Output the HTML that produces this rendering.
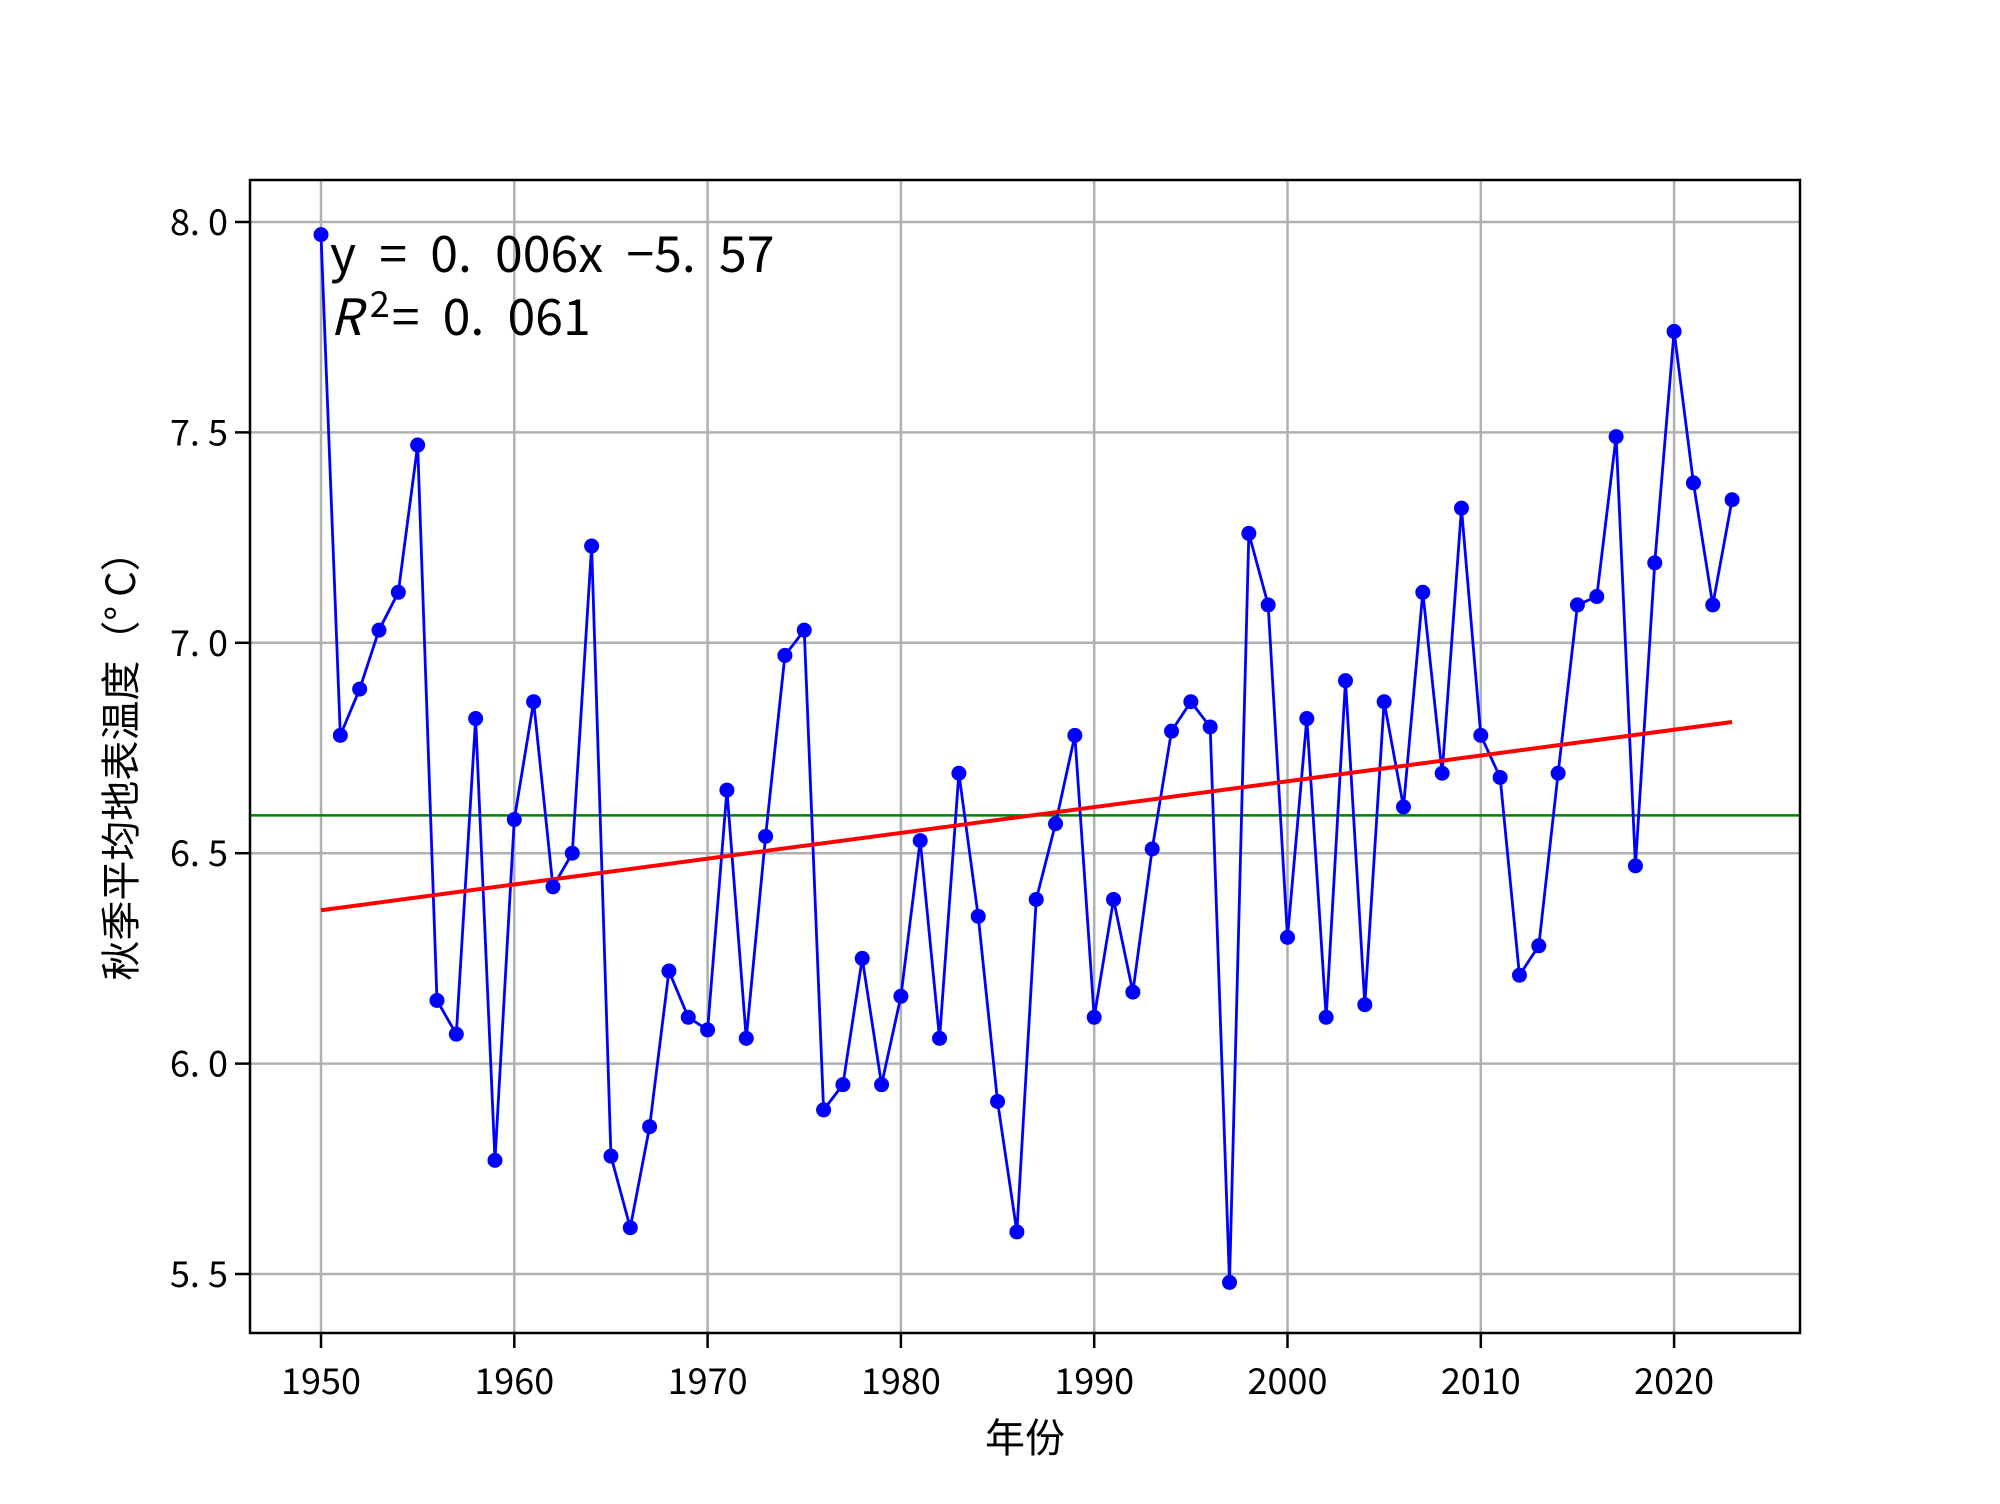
<!DOCTYPE html>
<html><head><meta charset="utf-8"><style>
html,body{margin:0;padding:0;background:#fff;}
svg text{font-family:"WenQuanYi Zen Hei","Noto Sans CJK SC",sans-serif;}
</style></head><body>
<svg id="chart" width="2000" height="1499" viewBox="0 0 2000 1499" xmlns="http://www.w3.org/2000/svg">
<rect width="2000" height="1499" fill="#fff"/>
<g id="grid"></g>
<g id="series"></g>
<rect x="250" y="180" width="1550" height="1153" fill="none" stroke="#000" stroke-width="2.5"/>
<g id="ticks"></g>
<text x="330" y="272" font-size="50" word-spacing="12">y = 0. 006x −5. 57</text>
<text x="330" y="335" font-size="50" word-spacing="12"><tspan font-style="italic">R</tspan><tspan dx="8" dy="-18" font-size="36">2</tspan><tspan dx="2" dy="18">= 0. 061</tspan></text>
<text x="1025" y="1452" font-size="40" text-anchor="middle">年份</text>
<text transform="translate(135,756) rotate(-90)" font-size="40" text-anchor="middle">秋季平均地表温度（° C）</text>
</svg>
<script>
const years = [];
for (let y = 1950; y <= 2023; y++) years.push(y);
const temps = [7.97,6.78,6.89,7.03,7.12,7.47,6.15,6.07,6.82,5.77,6.58,6.86,6.42,6.50,7.23,5.78,5.61,5.85,6.22,6.11,6.08,6.65,6.06,6.54,6.97,7.03,5.89,5.95,6.25,5.95,6.16,6.53,6.06,6.69,6.35,5.91,5.60,6.39,6.57,6.78,6.11,6.39,6.17,6.51,6.79,6.86,6.80,5.48,7.26,7.09,6.30,6.82,6.11,6.91,6.14,6.86,6.61,7.12,6.69,7.32,6.78,6.68,6.21,6.28,6.69,7.09,7.11,7.49,6.47,7.19,7.74,7.38,7.09,7.34];
const xTicks = [1950,1960,1970,1980,1990,2000,2010,2020];
const yTicks = [5.5,6.0,6.5,7.0,7.5,8.0];
const yTickLabels = ["5. 5","6. 0","6. 5","7. 0","7. 5","8. 0"];
const meanValue = [6.59];

const NS = "http://www.w3.org/2000/svg";
const L = 250, R = 1800, T = 180, B = 1333;
function xs(v){ return 321 + (v - 1950) * 19.33; }
function ys(v){ return 222 + (8 - v) * 420.8; }
function mk(tag, attrs, parent){
  const e = document.createElementNS(NS, tag);
  for (const k in attrs) e.setAttribute(k, attrs[k]);
  parent.appendChild(e);
  return e;
}
const grid = document.getElementById('grid');
const ticks = document.getElementById('ticks');
const series = document.getElementById('series');
xTicks.forEach(t => {
  const g = mk('line', {x1:xs(t), x2:xs(t), y1:T, y2:B, stroke:'#b0b0b0', 'stroke-width':2.5}, grid);
  
  
  const tk = mk('line', {x1:xs(t), x2:xs(t), y1:B, y2:B+15, stroke:'#000', 'stroke-width':2.5}, ticks);
  
  
  const tx = mk('text', {x:xs(t), y:1394, 'font-size':36, 'text-anchor':'middle'}, ticks);
  tx.textContent = t;
  
  
});
yTicks.forEach((t, i) => {
  const g = mk('line', {x1:L, x2:R, y1:ys(t), y2:ys(t), stroke:'#b0b0b0', 'stroke-width':2.5}, grid);
  
  
  const tk = mk('line', {x1:L-15, x2:L, y1:ys(t), y2:ys(t), stroke:'#000', 'stroke-width':2.5}, ticks);
  
  
  const tx = mk('text', {x:L-22, y:ys(t)+13, 'font-size':36, 'text-anchor':'end'}, ticks);
  tx.textContent = yTickLabels[i];
  
  
});
const ml = mk('line', {x1:L, x2:R, y1:ys(meanValue[0]), y2:ys(meanValue[0]), stroke:'#008000', 'stroke-width':2.5}, series);


const pts = years.map((y, i) => xs(y) + ',' + ys(temps[i])).join(' ');
const pl = mk('polyline', {points:pts, fill:'none', stroke:'#0000ff', 'stroke-width':2.8}, series);


const n = years.length;
const mx = years.reduce((a,b)=>a+b,0)/n, my = temps.reduce((a,b)=>a+b,0)/n;
let sxy = 0, sxx = 0;
years.forEach((y,i)=>{ sxy += (y-mx)*(temps[i]-my); sxx += (y-mx)*(y-mx); });
const slope = sxy/sxx, icpt = my - slope*mx;
const y0 = years[0], y1 = years[n-1];
const tl = mk('line', {x1:xs(y0), y1:ys(slope*y0+icpt), x2:xs(y1), y2:ys(slope*y1+icpt), stroke:'#ff0000', 'stroke-width':4}, series);


years.forEach((y, i) => {
  const c = mk('circle', {cx:xs(y), cy:ys(temps[i]), r:7.5, fill:'#0000ff'}, series);
  
  
});
</script>
</body></html>
